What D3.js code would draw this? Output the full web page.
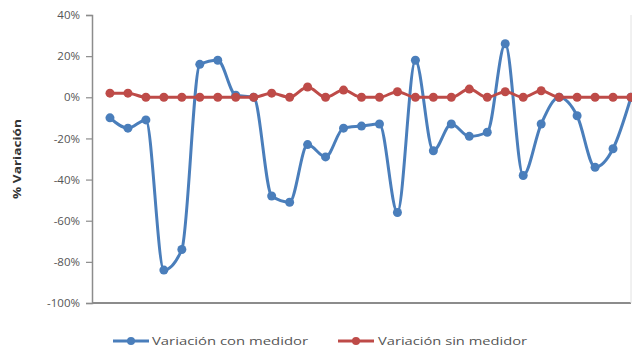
<!DOCTYPE html>
<html>
<head>
<meta charset="utf-8">
<script src="https://cdn.jsdelivr.net/npm/d3@7"></script>
<style>
  html, body { margin: 0; padding: 0; background: #fff; }
  svg { display: block; }
</style>
</head>
<body>
<svg id="chart" width="632" height="350"></svg>
<script>
// Category positions 1..30 (position 0 is an empty leading category)
const categories = [1, 2, 3, 4, 5, 6, 7, 8, 9, 10, 11, 12, 13, 14, 15,
                    16, 17, 18, 19, 20, 21, 22, 23, 24, 25, 26, 27, 28, 29, 30];

// % variation with meter
const conMedidor = [-10, -15, -11, -84, -74, 16, 18, 1, 0, -48,
                    -51, -23, -29, -15, -14, -13, -56, 18, -26, -13,
                    -19, -17, 26, -38, -13, 0, -9, -34, -25, 0];

// % variation without meter
const sinMedidor = [2, 2, 0, 0, 0, 0, 0, 0, 0, 2,
                    0, 5, 0, 3.5, 0, 0, 2.7, 0, 0, 0,
                    4, 0, 2.7, 0, 3.2, 0, 0, 0, 0, 0];

const yTicks = [40, 20, 0, -20, -40, -60, -80, -100];
const seriesNames = ["Variación con medidor", "Variación sin medidor"];
const seriesColors = ["#4A7EBB", "#BE4B48"];

const svg = d3.select("#chart");
const fontFamily = "'Open Sans', 'Liberation Sans', sans-serif";

const plotLeft = 92, plotRight = 631, plotTop = 15, plotBottom = 303;

const x = d3.scaleLinear().domain([0, 30]).range([plotLeft, plotRight]);
const y = d3.scaleLinear().domain([-100, 40]).range([plotBottom, plotTop]);

// Y axis
const yAxis = d3.axisLeft(y)
  .tickValues(yTicks)
  .tickSize(6)
  .tickPadding(6)
  .tickFormat(d => d + "%");

const gy = svg.append("g")
  .attr("transform", `translate(${plotLeft},0)`)
  .call(yAxis);
gy.select(".domain").attr("stroke", "#8c8c8c").attr("stroke-width", 1.5);
gy.selectAll(".tick line").attr("stroke", "#8c8c8c").attr("stroke-width", 1.2);
gy.selectAll(".tick text")
  .attr("fill", "#555")
  .style("font-family", fontFamily)
  .style("font-size", "11.5px");

// X axis baseline (no tick labels)
svg.append("line")
  .attr("x1", plotLeft).attr("x2", plotRight)
  .attr("y1", plotBottom).attr("y2", plotBottom)
  .attr("stroke", "#8c8c8c").attr("stroke-width", 1.8);

// Right border of plot area
svg.append("line")
  .attr("x1", plotRight).attr("x2", plotRight)
  .attr("y1", plotTop).attr("y2", plotBottom)
  .attr("stroke", "#e2e2e2").attr("stroke-width", 1);

// Y title
svg.append("text")
  .attr("transform", `translate(21,159) rotate(-90)`)
  .attr("text-anchor", "middle")
  .attr("fill", "#333")
  .style("font-family", fontFamily)
  .style("font-size", "11px")
  .style("font-weight", "bold")
  .attr("textLength", 80)
  .attr("lengthAdjust", "spacingAndGlyphs")
  .text("% Variación");

const line = d3.line()
  .x(d => x(d.c))
  .y(d => y(d.v))
  .curve(d3.curveMonotoneX);

const seriesData = [conMedidor, sinMedidor].map(vals =>
  vals.map((v, i) => ({ c: categories[i], v })));

seriesData.forEach((data, k) => {
  const g = svg.append("g");
  g.append("path")
    .datum(data)
    .attr("fill", "none")
    .attr("stroke", seriesColors[k])
    .attr("stroke-width", 3)
    .attr("stroke-linejoin", "round")
    .attr("d", line);
  g.selectAll("circle")
    .data(data)
    .join("circle")
    .attr("cx", d => x(d.c))
    .attr("cy", d => y(d.v))
    .attr("r", 4.5)
    .attr("fill", seriesColors[k]);
});

// Legend
const legendY = 341;
const legendItems = [
  { x0: 113, textX: 152, textLen: 156 },
  { x0: 338, textX: 378, textLen: 149 }
];
legendItems.forEach((it, k) => {
  const g = svg.append("g");
  g.append("line")
    .attr("x1", it.x0).attr("x2", it.x0 + 36)
    .attr("y1", legendY).attr("y2", legendY)
    .attr("stroke", seriesColors[k]).attr("stroke-width", 3);
  g.append("circle")
    .attr("cx", it.x0 + 18).attr("cy", legendY)
    .attr("r", 4).attr("fill", seriesColors[k]);
  g.append("text")
    .attr("x", it.textX).attr("y", legendY + 4)
    .attr("fill", "#555")
    .style("font-family", fontFamily)
    .style("font-size", "11.5px")
    .attr("textLength", it.textLen)
    .attr("lengthAdjust", "spacingAndGlyphs")
    .text(seriesNames[k]);
});
</script>
</body>
</html>
